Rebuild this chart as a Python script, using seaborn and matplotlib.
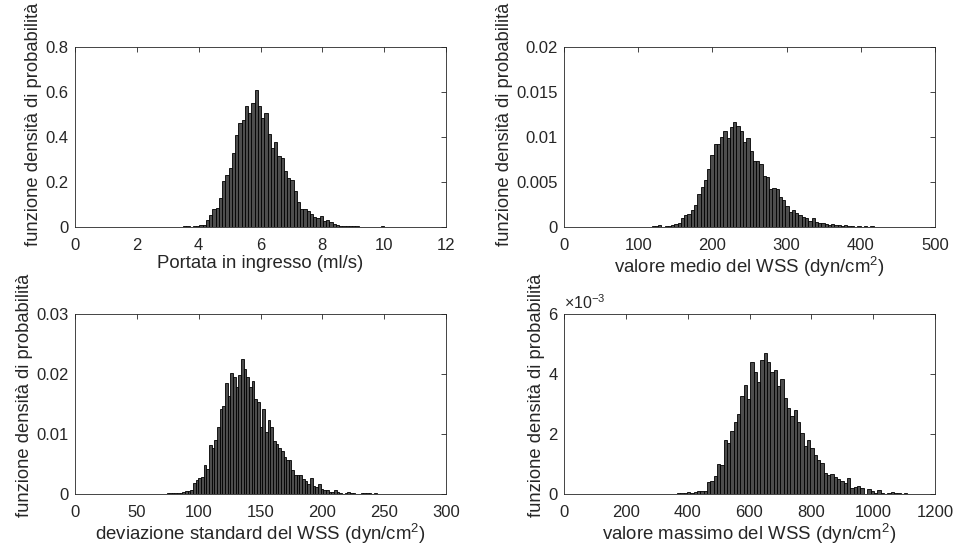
import numpy as np
import pandas as pd
import matplotlib
matplotlib.use("Agg")
import matplotlib.pyplot as plt
import seaborn as sns
from matplotlib.ticker import FuncFormatter

sns.set_style("white")
plt.rcParams["font.family"] = ["Liberation Sans", "DejaVu Sans"]
plt.rcParams["mathtext.fontset"] = "custom"
plt.rcParams["mathtext.rm"] = "Liberation Sans"
plt.rcParams["mathtext.it"] = "Liberation Sans:italic"

# ---- data (bin start, bin width, densities) ----
s1_start, s1_width = 3.5, 0.105
s1_density = [0.004, 0.003, 0.002, 0.003, 0.005, 0.009, 0.008, 0.03, 0.052, 0.078,
              0.083, 0.13, 0.204, 0.23, 0.264, 0.33, 0.41, 0.46, 0.474, 0.538,
              0.505, 0.55, 0.607, 0.538, 0.486, 0.508, 0.415, 0.352, 0.378, 0.316,
              0.305, 0.249, 0.216, 0.209, 0.16, 0.113, 0.078, 0.08, 0.071, 0.056,
              0.046, 0.041, 0.049, 0.027, 0.03, 0.021, 0.015, 0.009, 0.006, 0.004,
              0.003, 0.003, 0.004, 0.003, 0.002, 0.001, 0.001, 0, 0, 0, 0, 0.003]

s2_start, s2_width = 118.0, 4.4
s2_density = [0.0001, 0.0001, 0.0002, 0.0, 0.0001, 0.0001, 0.0002, 0.0003, 0.0005, 0.00096,
              0.0013, 0.0015, 0.0019, 0.0024, 0.0037, 0.0044, 0.0052, 0.0064, 0.008, 0.0092,
              0.0092, 0.01, 0.0107, 0.0099, 0.0111, 0.0117, 0.0112, 0.0107, 0.0094, 0.0099,
              0.0084, 0.0073, 0.0073, 0.007, 0.0057, 0.0056, 0.0042, 0.0043, 0.0042, 0.0033,
              0.003, 0.0023, 0.0017, 0.0019, 0.0016, 0.0013, 0.0011, 0.001, 0.0007, 0.001,
              0.0006, 0.0005, 0.0005, 0.0003, 0.0002, 0.0003, 0.0002, 0.0002, 0.0001, 0.0002,
              0.0001, 0.0001, 0.0, 0.0001, 0.0, 0.0001, 0.0, 0.0001]

s3_start, s3_width = 74.0, 2.15
s3_density = [0.0002, 0.0002, 0.0001, 0.0002, 0.0001, 0.0002, 0.0004, 0.0005, 0.0005, 0.0007,
              0.0018, 0.0023, 0.0027, 0.0029, 0.0048, 0.0041, 0.0082, 0.0077, 0.009, 0.0111,
              0.0142, 0.0146, 0.0185, 0.0163, 0.0201, 0.0195, 0.0179, 0.0199, 0.0225, 0.0209,
              0.0195, 0.0178, 0.0188, 0.0158, 0.0154, 0.0112, 0.0142, 0.0103, 0.0123, 0.0112,
              0.0088, 0.0084, 0.0077, 0.0072, 0.0061, 0.0057, 0.0057, 0.004, 0.0032, 0.0031,
              0.0032, 0.0025, 0.0021, 0.0017, 0.0027, 0.0014, 0.0011, 0.0016, 0.0008, 0.0007,
              0.0006, 0.0004, 0.0003, 0.0006, 0.0003, 0.0001, 0.0, 0.0002, 0.0003, 0.0002,
              0.0001, 0.0, 0.0, 0.0001, 0.0001, 0.0001, 0.0001, 0.0, 0.0001]

s4_start, s4_width = 365.0, 10.8
s4_density_e3 = [0.03, 0.05, 0.02, 0.06, 0.04, 0.06, 0.09, 0.09, 0.11, 0.39,
                 0.44, 0.61, 1.0, 0.97, 1.8, 1.69, 2.11, 2.41, 2.67, 3.28,
                 3.63, 3.17, 4.41, 4.08, 3.72, 4.48, 4.7, 4.39, 4.06, 4.14,
                 3.61, 3.83, 3.19, 2.86, 2.61, 2.8, 2.41, 2.03, 1.61, 1.8,
                 1.52, 1.31, 1.13, 1.02, 0.69, 0.64, 0.67, 0.56, 0.5, 0.44,
                 0.36, 0.53, 0.2, 0.22, 0.26, 0.2, 0.0, 0.17, 0.09, 0.02,
                 0.13, 0.02, 0.0, 0.02, 0.06, 0.04, 0.02, 0.0, 0.02, 0.01]
s4_density = [v * 1e-3 for v in s4_density_e3]

xlabels = ["Portata in ingresso (ml/s)",
           "valore medio del WSS (dyn/cm$^2$)",
           "deviazione standard del WSS (dyn/cm$^2$)",
           "valore massimo del WSS (dyn/cm$^2$)"]
ylabel = "funzione densità di probabilità"
xlims = [(0, 12), (0, 500), (0, 300), (0, 1200)]
xticks = [[0, 2, 4, 6, 8, 10, 12], [0, 100, 200, 300, 400, 500],
          [0, 50, 100, 150, 200, 250, 300], [0, 200, 400, 600, 800, 1000, 1200]]
ylims = [(0, 0.8), (0, 0.02), (0, 0.03), (0, 0.006)]
yticks = [[0, 0.2, 0.4, 0.6, 0.8], [0, 0.005, 0.01, 0.015, 0.02],
          [0, 0.01, 0.02, 0.03], [0, 0.002, 0.004, 0.006]]

series = [(s1_start, s1_width, s1_density), (s2_start, s2_width, s2_density),
          (s3_start, s3_width, s3_density), (s4_start, s4_width, s4_density)]

W, H = 957, 551
fig = plt.figure(figsize=(W / 100, H / 100), dpi=100)
# axes boxes in pixels: left, top, right, bottom
boxes = [(75, 47, 446, 227), (564, 47, 935, 227), (75, 314, 446, 494), (564, 314, 935, 494)]
label_y = [0.57, 0.57, 0.55, 0.55]

frame = "#262626"
for k, (box, (st, wd, dens)) in enumerate(zip(boxes, series)):
    l, t, r, b = box
    ax = fig.add_axes([l / W, 1 - b / H, (r - l) / W, (b - t) / H])
    n = len(dens)
    edges = [st + wd * i for i in range(n + 1)]
    centers = [(edges[i] + edges[i + 1]) / 2 for i in range(n)]
    df = pd.DataFrame({"value": centers, "density": dens})
    sns.histplot(data=df, x="value", weights="density", bins=edges, ax=ax, stat="count",
                 color="#4d4d4d", edgecolor="black", linewidth=0.6, alpha=1.0)
    ax.set_xlim(*xlims[k])
    ax.set_ylim(*ylims[k])
    ax.set_xticks(xticks[k])
    ax.set_yticks(yticks[k])
    if k == 3:
        ax.yaxis.set_major_formatter(FuncFormatter(lambda v, p: "%g" % round(v * 1e3, 6)))
        ax.text(0.0, 1.01, r"$\times$10$^{\mathregular{-3}}$", transform=ax.transAxes,
                fontsize=11.5, color=frame, ha="left", va="bottom")
    else:
        ax.yaxis.set_major_formatter(FuncFormatter(lambda v, p: "%g" % round(v, 6)))
    ax.xaxis.set_major_formatter(FuncFormatter(lambda v, p: "%g" % v))
    ax.tick_params(direction="in", top=True, right=True, length=3.5, width=0.6,
                   labelsize=12, colors=frame)
    ax.tick_params(axis="x", pad=8)
    ax.tick_params(axis="y", pad=4.5)
    for sp in ax.spines.values():
        sp.set_color(frame)
        sp.set_linewidth(0.6)
    ax.set_xlabel(xlabels[k], fontsize=13.4, color=frame, labelpad=1.5)
    ax.set_ylabel(ylabel, fontsize=13.2, color=frame, labelpad=2.5)
    ax.yaxis.label.set_y(label_y[k])
    ax.grid(False)

fig.savefig("out.png", dpi=100)
